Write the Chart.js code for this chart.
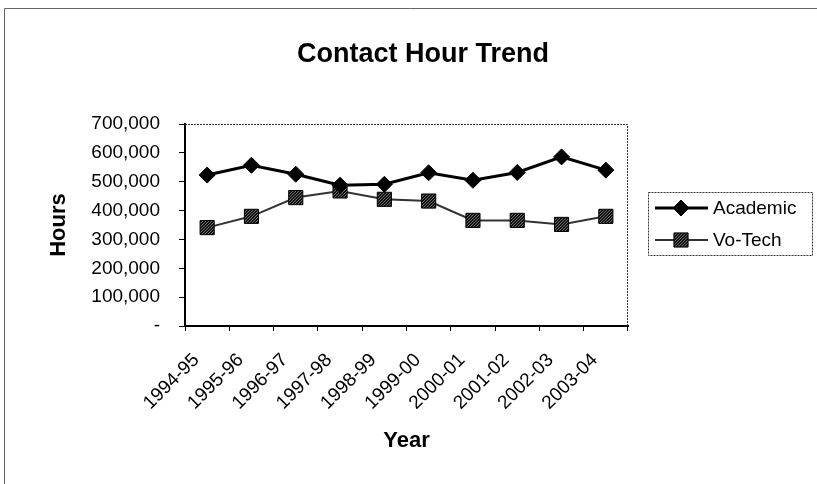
<!DOCTYPE html>
<html>
<head>
<meta charset="utf-8">
<script src="https://cdn.jsdelivr.net/npm/chart.js@4.4.0/dist/chart.umd.min.js"></script>
<style>
  html, body { margin: 0; padding: 0; background: #fff; }
</style>
</head>
<body>
<canvas id="chart" width="817" height="484"></canvas>
<script>
const years = ["1994-95", "1995-96", "1996-97", "1997-98", "1998-99",
               "1999-00", "2000-01", "2001-02", "2002-03", "2003-04"];
const academic = [523000, 557000, 526000, 488000, 491000, 531000, 505000, 532000, 586000, 540000];
const voTech = [341000, 380000, 445000, 468000, 439000, 433000, 366000, 366000, 352000, 380000];
const yMin = 0;
const yMax = 700000;
const yStep = 100000;

const FONT = "'Liberation Sans', Arial, sans-serif";

// grainy fill like the scanned square markers
function stipple() {
    const c = document.createElement("canvas");
    c.width = 3; c.height = 3;
    const g = c.getContext("2d");
    g.fillStyle = "#111";
    g.fillRect(0, 0, 3, 3);
    g.fillStyle = "#6e6e6e";
    g.fillRect(0, 0, 1, 1);
    g.fillRect(2, 1, 1, 1);
    g.fillRect(1, 2, 1, 1);
    return g.createPattern(c, "repeat");
}

const framePlugin = {
    id: "frame",
    afterDraw(chart) {
        const { ctx, chartArea: a } = chart;
        ctx.save();

        // outer border (only top + left show in the scan)
        ctx.strokeStyle = "#666";
        ctx.lineWidth = 1;
        ctx.beginPath();
        ctx.moveTo(4.5, 484);
        ctx.lineTo(4.5, 8.5);
        ctx.lineTo(817, 8.5);
        ctx.stroke();

        // plot box top and right edges
        ctx.setLineDash([2, 1]);
        ctx.strokeStyle = "#333";
        ctx.beginPath();
        ctx.moveTo(a.left, a.top + 0.5);
        ctx.lineTo(a.right - 0.5, a.top + 0.5);
        ctx.lineTo(a.right - 0.5, a.bottom);
        ctx.stroke();
        ctx.setLineDash([]);

        // titles
        ctx.fillStyle = "#000";
        ctx.textAlign = "center";
        ctx.textBaseline = "alphabetic";
        ctx.font = `bold 27px ${FONT}`;
        ctx.fillText("Contact Hour Trend", 423, 62);
        ctx.font = `bold 22px ${FONT}`;
        ctx.fillText("Year", (a.left + a.right) / 2, 447);
        ctx.save();
        ctx.translate(65, (a.top + a.bottom) / 2);
        ctx.rotate(-Math.PI / 2);
        ctx.fillText("Hours", 0, 0);
        ctx.restore();

        // legend
        ctx.setLineDash([2, 1]);
        ctx.strokeStyle = "#333";
        ctx.lineWidth = 1;
        ctx.strokeRect(648.5, 192.5, 164, 63);
        ctx.setLineDash([]);
        const rows = [208, 240];
        chart.data.datasets.forEach((ds, i) => {
            const y = rows[i];
            ctx.strokeStyle = ds.borderColor;
            ctx.lineWidth = ds.borderWidth;
            ctx.beginPath();
            ctx.moveTo(655, y);
            ctx.lineTo(708, y);
            ctx.stroke();
            ctx.fillStyle = ds.pointBackgroundColor;
            ctx.strokeStyle = ds.pointBorderColor;
            ctx.lineWidth = ds.pointBorderWidth;
            Chart.helpers.drawPoint(ctx, {
                pointStyle: ds.pointStyle, radius: ds.pointRadius,
                borderWidth: ds.pointBorderWidth, rotation: 0
            }, 681, y);
            ctx.fillStyle = "#000";
            ctx.textAlign = "left";
            ctx.textBaseline = "middle";
            ctx.font = `19px ${FONT}`;
            ctx.fillText(ds.label, 713, y + 1);
        });

        ctx.restore();
    }
};

const ctx = document.getElementById("chart").getContext("2d");
new Chart(ctx, {
    type: "line",
    data: {
        labels: years,
        datasets: [{
            label: "Academic",
            data: academic,
            borderColor: "#000",
            backgroundColor: "#000",
            borderWidth: 3,
            pointStyle: "rectRot",
            pointRadius: 8,
            pointBackgroundColor: "#000",
            pointBorderColor: "#000",
            pointBorderWidth: 1,
            tension: 0
        }, {
            label: "Vo-Tech",
            data: voTech,
            borderColor: "#333",
            backgroundColor: "#333",
            borderWidth: 2,
            pointStyle: "rect",
            pointRadius: 10,
            pointBackgroundColor: stipple(),
            pointBorderColor: "#000",
            pointBorderWidth: 1,
            tension: 0
        }]
    },
    options: {
        responsive: false,
        animation: false,
        devicePixelRatio: 1,
        layout: { padding: { left: 0, top: 124, right: 189, bottom: 0 } },
        plugins: {
            legend: { display: false },
            tooltip: { enabled: false },
            title: { display: false }
        },
        scales: {
            x: {
                offset: true,
                grid: { offset: true, drawOnChartArea: false, tickLength: 5, color: "#000" },
                border: { color: "#000", width: 2 },
                ticks: {
                    color: "#000",
                    font: { family: FONT, size: 19 },
                    minRotation: 45,
                    maxRotation: 45,
                    autoSkip: false,
                    padding: 18,
                    labelOffset: -11
                },
                afterFit: (s) => { s.height = 158; }
            },
            y: {
                min: yMin,
                max: yMax,
                ticks: {
                    stepSize: yStep,
                    color: "#000",
                    font: { family: FONT, size: 19 },
                    padding: 19,
                    callback: (v) => v === 0 ? "-" : v.toLocaleString("en-US")
                },
                grid: { drawOnChartArea: false, tickLength: 6, color: "#000" },
                border: { color: "#000", width: 2 },
                afterFit: (s) => { s.width = 185; }
            }
        }
    },
    plugins: [framePlugin]
});
</script>
</body>
</html>
